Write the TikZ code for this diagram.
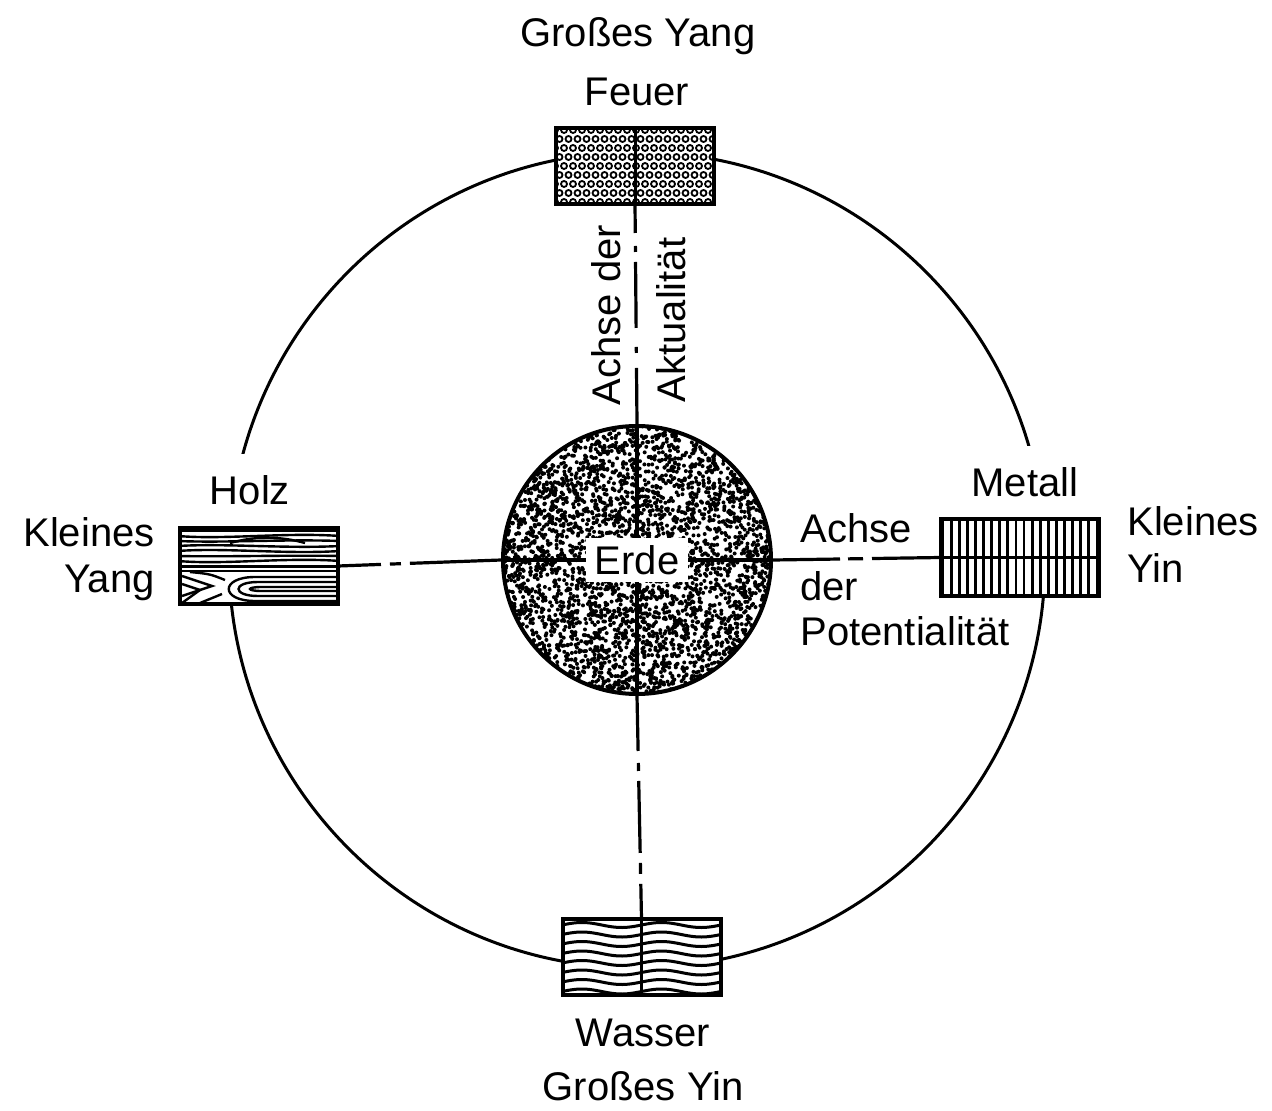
\documentclass[tikz,border=0pt]{standalone}
\usepackage{fontspec}
\setmainfont{Liberation Sans}
\tikzset{
  element/.style={draw, line width=2pt, fill=white, minimum width=79pt, minimum height=38pt, inner sep=0pt, outer sep=0pt},
  achse/.style={line width=1.6pt},
  textur/.style={line width=1.2pt},
}

\begin{document}
\begin{tikzpicture}[x=0.5pt, y=-0.5pt, every node/.style={font=\fontsize{20}{24}\selectfont, inner sep=0pt}]
\useasboundingbox (0,0) rectangle (1272,1111);
\draw[line width=1.5pt] (637,560) circle [radius=408];
\node[anchor=base, fill=white, inner ysep=11pt] (holztext) at (250,505) {Holz};
\node[anchor=base, fill=white, inner ysep=11pt] (metalltext) at (1025,497) {Metall};

\node[element] (feuer) at (635,166) {};
\node[element] (holz) at (259,566) {};
\node[element] (metall) at (1019.5,557.5) {};
\node[element] (wasser) at (641.5,957) {};
\node[draw, circle, line width=2pt, fill=white, minimum size=134pt] (erdkreis) at (637,560) {};

% Feuer
\begin{scope}
\clip (feuer.south west) rectangle (feuer.north east);
\foreach \r in {0,...,8}
  \foreach \c in {0,...,18}
    \draw[line width=0.9pt] ({555+\c*9+mod(\r,2)*4.5},{130+\r*9}) circle [radius=3];
\end{scope}
\draw[line width=1.5pt] (feuer.north) -- (feuer.south);

% Holz
\begin{scope}
\clip (holz.south west) rectangle (holz.north east);
\foreach \k in {0,...,6}
  \draw[textur] (178,{531+5*\k}) .. controls (225,{531+5*\k+4*sin(\k*75)}) and (285,{531+5*\k-4*sin(\k*75)}) .. (340,{531+5*\k});
\draw[textur] (230,543) .. controls (255,536) and (280,536) .. (305,543);
\draw[textur] (178,571) -- (340,571);
\draw[textur] (340,577) -- (255,577) .. controls (220,577) and (220,601) .. (255,601) -- (340,601);
\draw[textur] (340,582) -- (258,582) .. controls (232,582) and (232,596) .. (258,596) -- (340,596);
\draw[textur] (340,587) -- (262,587) .. controls (246,587) and (246,591) .. (262,591) -- (340,591);
\draw[textur] (182,576) -- (212,586) -- (182,596);
\draw[textur] (182,584) -- (200,590) -- (182,603);
\draw[textur] (200,603) -- (222,594);
\draw[textur] (190,572) .. controls (210,574) .. (225,580);
\end{scope}
\draw[line width=1.5pt] (holz.west) -- (holz.east);

% Metall
\begin{scope}
\clip (metall.south west) rectangle (metall.north east);
\foreach \i in {0,...,19}
  \draw[line width=1.4pt] ({943+\i*8.1},517) -- ++(0,81);
\end{scope}
\draw[line width=1.5pt] (metall.west) -- (metall.east);

% Wasser
\begin{scope}
\clip (wasser.south west) rectangle (wasser.north east);
\foreach \r in {0,...,7}
  \foreach \h in {562,641.5}
    \draw[line width=1.5pt] plot[domain=0:79.5, samples=30, smooth] ({\h+\x},{925+\r*9.5-2.5*sin(\x/79.5*360)});
\end{scope}
\draw[line width=1.5pt] (wasser.north) -- (wasser.south);

% Erde
\begin{scope}
\clip (erdkreis.center) circle [radius=134];
\pgfmathsetseed{42}
\foreach \i in {1,...,4500}
  \fill ({637+136*rand},{560+136*rand}) circle [radius=2];
\end{scope}

\draw[achse, dash pattern=on 14.5pt off 6.5pt on 3pt off 5pt on 33pt off 9.5pt on 3pt off 7.5pt on 40pt off 1pt] (feuer.south) -- (erdkreis.north);
\draw[achse, dash pattern=on 27.5pt off 6pt on 4pt off 5pt on 36pt off 5pt on 5.5pt off 5pt on 30pt off 1pt] (erdkreis.south) -- (wasser.north);
\draw[achse, dash pattern=on 21.5pt off 4.5pt on 5.5pt off 4.5pt on 60pt off 1pt] (holz.east) -- (erdkreis.west);
\draw[achse, dash pattern=on 33.5pt off 4pt on 7.5pt off 4.5pt on 40pt off 1pt] (erdkreis.east) -- (metall.west);
\draw[achse] (erdkreis.north) -- (erdkreis.south);
\draw[achse] (erdkreis.west) -- (erdkreis.east);
\node[fill=white, minimum width=51pt, minimum height=22pt] (erde) at (erdkreis.center) {Erde};

\node[anchor=base] (grossesyang) at (638,47) {Großes Yang};
\node[anchor=base] (feuertext) at (637,106) {Feuer};
\node[anchor=base east] (kleines1) at (155,546) {Kleines};
\node[anchor=base east] (yang) at (155,592) {Yang};
\node[anchor=base west] (kleines2) at (1127,536) {Kleines};
\node[anchor=base west] (yin) at (1127,582) {Yin};
\node[anchor=base west] (achse1) at (800,543) {Achse};
\node[anchor=base west] (der1) at (800,600) {der};
\node[anchor=base west] (potentialitaet) at (800,645) {Potentialität};
\node[anchor=base, rotate=90] (achseder) at (620,315) {Achse der};
\node[anchor=base, rotate=90] (aktualitaet) at (685,320) {Aktualität};
\node[anchor=base] (wassertext) at (643,1046) {Wasser};
\node[anchor=base] (grossesyin) at (643,1100) {Großes Yin};
\end{tikzpicture}
\end{document}
